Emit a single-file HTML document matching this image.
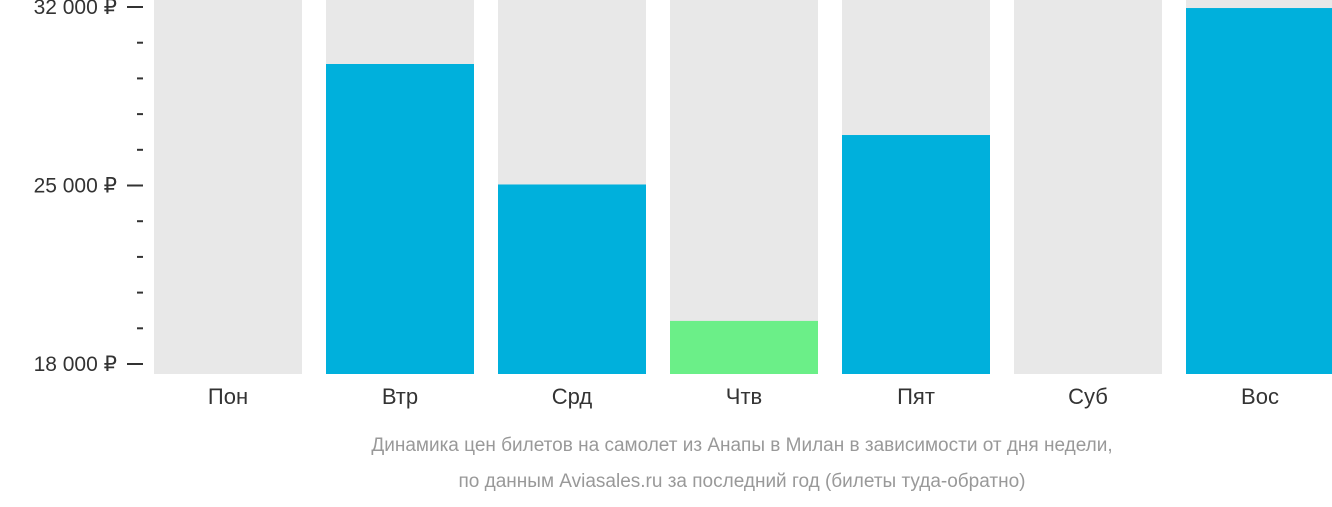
<!DOCTYPE html>
<html><head><meta charset="utf-8">
<style>
body{margin:0;background:#fff;font-family:"Liberation Sans","DejaVu Sans",sans-serif;}
svg text{font-family:"Liberation Sans","DejaVu Sans",sans-serif;}
</style></head>
<body>
<svg id="chart" width="1332" height="502" xmlns="http://www.w3.org/2000/svg"></svg>
<script>
const categories=["Пон","Втр","Срд","Чтв","Пят","Суб","Вос"];
const prices=[null,29765,25040,19690,26980,null,31960];
const highlight=[false,false,false,true,false,false,false];
const majorTicks=[18000,25000,32000];
const majorLabels=["18 000 ₽","25 000 ₽","32 000 ₽"];
const minorTicks=[19400,20800,22200,23600,26400,27800,29200,30600];
const captionLines=["Динамика цен билетов на самолет из Анапы в Милан в зависимости от дня недели,","по данным Aviasales.ru за последний год (билеты туда-обратно)"];

const svg=document.getElementById('chart');
const NS="http://www.w3.org/2000/svg";
const vMin=17608,vMax=32275,yBottom=374,yTop=0;
function y(v){return yBottom-(v-vMin)/(vMax-vMin)*(yBottom-yTop);}
function x(i){return 154+i*172;}
const bw=148;
function mk(tag,attrs){const e=document.createElementNS(NS,tag);for(const k in attrs)e.setAttribute(k,attrs[k]);svg.appendChild(e);return e;}

categories.forEach((c,i)=>{
  const bg=mk('rect',{x:x(i),y:yTop,width:bw,height:yBottom-yTop,fill:'#e8e8e8'});
  
  
  if(prices[i]!=null){
    const b=mk('rect',{x:x(i),y:y(prices[i]),width:bw,height:yBottom-y(prices[i]),fill:highlight[i]?'#6bef88':'#00b0dc'});
    
    
  }
  const t=mk('text',{x:x(i)+bw/2,y:404,'text-anchor':'middle','font-size':22,fill:'#333'});
  t.textContent=c;
  
  
});
majorTicks.forEach((v,i)=>{
  const l=mk('line',{x1:127,x2:143,y1:y(v),y2:y(v),stroke:'#333','stroke-width':2});
  
  
  const t=mk('text',{x:117,y:y(v)+7,'text-anchor':'end','font-size':21,fill:'#333'});
  t.textContent=majorLabels[i];
  
  
});
minorTicks.forEach(v=>{
  const l=mk('line',{x1:137,x2:143,y1:y(v),y2:y(v),stroke:'#333','stroke-width':2});
  
  
});
captionLines.forEach((s,i)=>{
  const t=mk('text',{x:742,y:451+i*36,'text-anchor':'middle','font-size':19,fill:'#999'});
  t.textContent=s;
  
  
});
</script>
</body></html>
